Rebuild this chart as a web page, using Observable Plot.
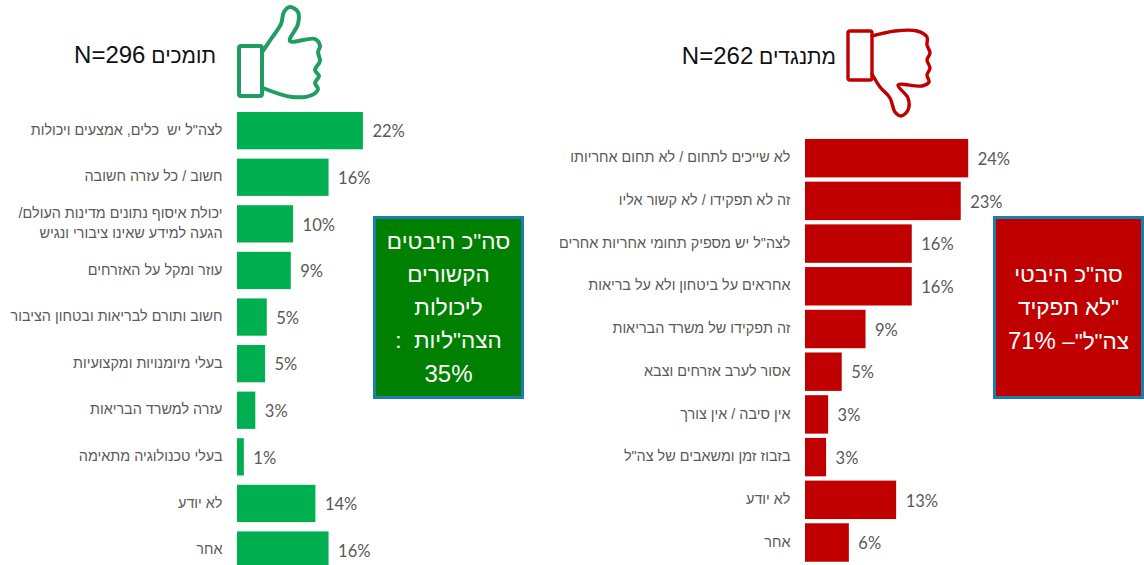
<!DOCTYPE html>
<html lang="he">
<head>
<meta charset="utf-8">
<script src="https://cdn.jsdelivr.net/npm/d3@7"></script>
<script src="https://cdn.jsdelivr.net/npm/@observablehq/plot@0.6"></script>
<style>
html,body{margin:0;padding:0;background:#fff;}
#stage{position:relative;width:1144px;height:565px;overflow:hidden;font-family:"Liberation Sans",Arial,sans-serif;}
#stage>*{position:absolute;}
.title{direction:rtl;font-size:21px;color:#111;white-space:nowrap;line-height:28px;text-align:right;}
.title span{font-size:24px;}
.box{box-sizing:border-box;width:151px;height:183px;top:216px;border:3px solid #1a7fb0;color:#fff;direction:rtl;text-align:center;font-size:22.5px;display:flex;flex-direction:column;justify-content:center;line-height:33px;white-space:pre;}
.box span{font-size:24px;}
</style>
</head>
<body>
<div id="stage"></div>
<script>
const supportCats = [
  "לצה\"ל יש  כלים, אמצעים ויכולות",
  "חשוב / כל עזרה חשובה",
  "יכולת איסוף נתונים מדינות העולם/\u200f\n\u200fהגעה למידע שאינו ציבורי ונגיש\u00a0\u00a0\u00a0\u200f",
  "עוזר ומקל על האזרחים",
  "חשוב ותורם לבריאות ובטחון הציבור",
  "בעלי מיומנויות ומקצועיות",
  "עזרה למשרד הבריאות",
  "בעלי טכנולוגיה מתאימה",
  "לא יודע",
  "אחר"
];
const supportVals = [22, 16, 9.8, 9.4, 5.2, 4.9, 3.2, 1.2, 13.7, 16];
const opposeCats = [
  "לא שייכים לתחום / לא תחום אחריותו",
  "זה לא תפקידו / לא קשור אליו",
  "לצה\"ל יש מספיק תחומי אחריות אחרים",
  "אחראים על ביטחון ולא על בריאות",
  "זה תפקידו של משרד הבריאות",
  "אסור לערב אזרחים וצבא",
  "אין סיבה / אין צורך",
  "בזבוז זמן ומשאבים של צה\"ל",
  "לא יודע",
  "אחר"
];
const opposeVals = [24, 22.9, 15.7, 15.7, 8.9, 5.4, 3.4, 3.1, 13.4, 6.45];
const supportTitle = ["תומכים ", "N=296"];
const opposeTitle = ["מתנגדים ", "N=262"];
const supportBox = ["סה\"כ היבטים", "הקשורים", "ליכולות", "הצה\"ליות  :", "35%"];
const opposeBox = ["סה\"כ היבטי", "\"לא תפקיד", "צה\"ל\"– 71%"];

const stage = document.getElementById("stage");

function panel(cats, vals, color, o) {
  const rows = cats.map((c, i) => ({c, v: vals[i]}));
  const p = Plot.plot({
    width: o.width, height: 565,
    marginLeft: o.marginLeft, marginRight: 0, marginTop: 0, marginBottom: 0,
    style: {background: "transparent", overflow: "hidden"},
    x: {domain: [0, o.xMax], axis: null},
    y: {domain: cats, range: o.yRange, padding: o.pad, round: false, label: null, axis: null},
    marks: [
      Plot.barX(rows, {x: "v", y: "c", fill: color}),
      Plot.axisY({anchor: "left", tickSize: 0, tickPadding: 15, label: null, fontSize: 14.4, lineHeight: 1.45,
        fill: "#595959", fontFamily: "Liberation Sans", dy: -3}),
      Plot.text(rows, {x: "v", y: "c", text: d => Math.round(d.v) + "%", dx: 9, dy: 1, textAnchor: "start",
        fill: "#595959", fontSize: 16.5, fontFamily: "Lato"})
    ]
  });
  p.style.left = o.left + "px";
  p.style.top = "0px";
  stage.appendChild(p);
}
panel(supportCats, supportVals, "#00b050", {left: 0, width: 530, marginLeft: 237, xMax: 51.2, yRange: [102.7, 578], pad: 0.2});
panel(opposeCats, opposeVals, "#c00000", {left: 560, width: 584, marginLeft: 245, xMax: 49.85, yRange: [134.7, 566], pad: 0.1});

function addTitle(parts, right, top) {
  const d = document.createElement("div");
  d.className = "title";
  d.appendChild(document.createTextNode(parts[0]));
  const s = document.createElement("span"); s.textContent = parts[1]; d.appendChild(s);
  d.style.right = (1144 - right) + "px"; d.style.top = top + "px";
  stage.appendChild(d);
}
function addBox(lines, left, bg) {
  const d = document.createElement("div");
  d.className = "box"; d.style.left = left + "px"; d.style.background = bg;
  lines.forEach(t => {
    const row = document.createElement("div");
    t.split(/(\d+%)/).forEach(part => {
      if (/\d+%/.test(part)) { const s = document.createElement("span"); s.textContent = part; row.appendChild(s); }
      else row.appendChild(document.createTextNode(part));
    });
    d.appendChild(row);
  });
  stage.appendChild(d);
}
addTitle(supportTitle, 216, 41);
addTitle(opposeTitle, 836, 42);
addBox(supportBox, 373, "#008000");
addBox(opposeBox, 993, "#c00000");

// thumb icons
const svg = d3.select(stage).append("svg").attr("width", 1144).attr("height", 565).style("left", 0).style("top", 0).style("pointer-events", "none");
const line = d3.line().curve(d3.curveCatmullRom.alpha(0.5));
function icon(cuff, hand, col, sw) {
  const g = svg.append("g").attr("fill", "none").attr("stroke", col).attr("stroke-width", sw).attr("stroke-linejoin", "round").attr("stroke-linecap", "round");
  g.append("rect").attr("x", cuff[0]).attr("y", cuff[1]).attr("width", cuff[2]).attr("height", cuff[3]).attr("rx", 2);
  g.append("path").attr("d", line(hand));
}
icon([239, 46, 23, 50], [[263,51],[271,39],[281,24],[284,12],[290,7],[298,12],[298,24],[290,41],[315,39],[320,46],[318,52],[320,61],[315,70],[319,76],[315,83],[318,89],[312,95],[292,97],[263,88]], "#1f9d63", 4);
icon([848, 31, 24, 49], [[872,36],[895,31],[917,31],[927,37],[927,45],[930,53],[927,60],[930,68],[927,75],[929,82],[922,86],[898,85],[908,98],[908,110],[901,116],[895,112],[890,98],[880,87],[872,74]], "#c00000", 3.4);
</script>
</body>
</html>
